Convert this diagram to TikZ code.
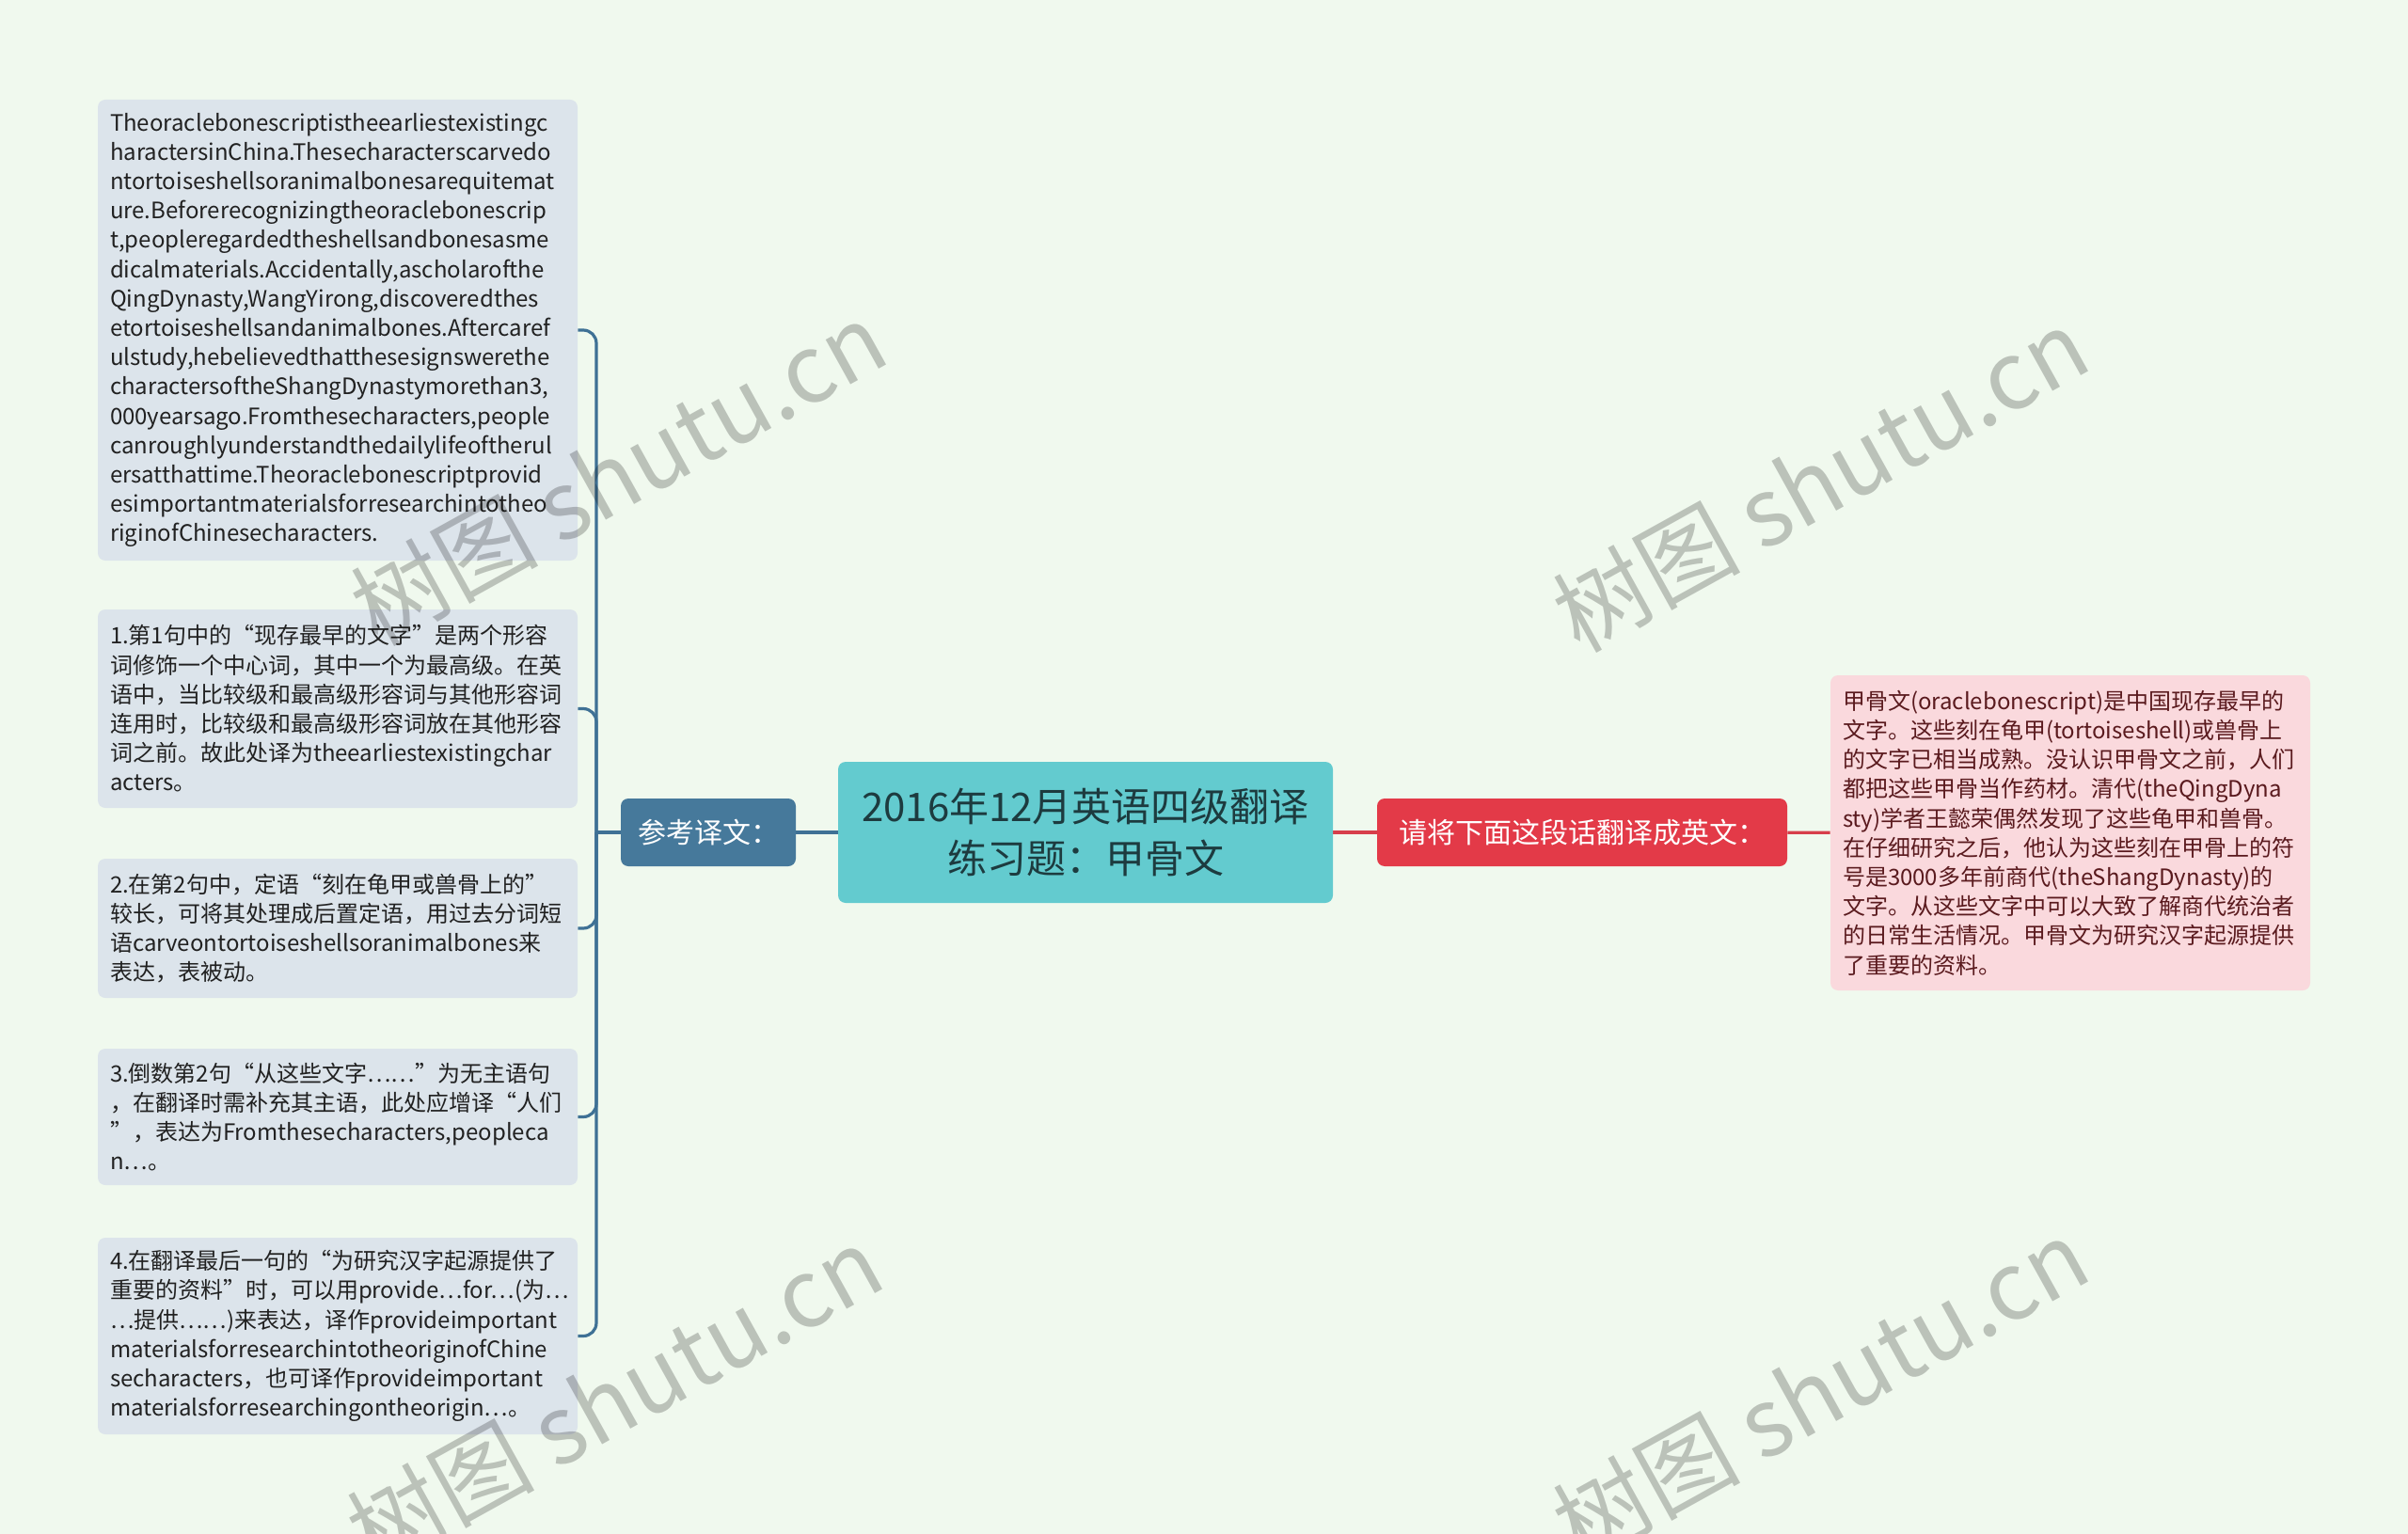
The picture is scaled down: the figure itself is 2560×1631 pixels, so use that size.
\documentclass[tikz,border=0pt]{standalone}
\usepackage{fontspec}
\setmainfont{Noto Sans CJK SC}
\definecolor{bgcolor}{RGB}{240,249,238}
\definecolor{notefill}{RGB}{220,228,235}
\definecolor{bluefill}{RGB}{70,121,155}
\definecolor{blueline}{RGB}{63,113,149}
\definecolor{centerfill}{RGB}{99,203,207}
\definecolor{centertext}{RGB}{29,59,63}
\definecolor{redfill}{RGB}{227,58,72}
\definecolor{redline}{RGB}{215,63,75}
\definecolor{pinkfill}{RGB}{250,217,221}
\definecolor{pinktext}{RGB}{90,26,30}
\pgfdeclarelayer{edgelayer}
\pgfdeclarelayer{nodelayer}
\pgfsetlayers{edgelayer,nodelayer,main}
\tikzstyle{center_topic}=[rectangle,rounded corners=4pt,fill=centerfill,text=centertext,align=center,minimum width=263pt,minimum height=75pt,font=\fontsize{21}{27.7}\selectfont]
\tikzstyle{blue_branch}=[rectangle,rounded corners=4pt,fill=bluefill,text=white,minimum width=93pt,minimum height=36pt,font=\fontsize{15}{18}\selectfont]
\tikzstyle{red_branch}=[rectangle,rounded corners=4pt,fill=redfill,text=white,minimum width=218pt,minimum height=36pt,font=\fontsize{15}{18}\selectfont]
\tikzstyle{note_box}=[rectangle,rounded corners=4pt,fill=notefill,text=black!87,text width=242pt,align=left,inner xsep=6.5pt,inner ysep=0pt,font=\fontsize{12}{15.6}\selectfont]
\tikzstyle{source_box}=[note_box,fill=pinkfill,text=pinktext]
\tikzstyle{blue_edge}=[draw=blueline,line width=1.6pt]
\tikzstyle{red_edge}=[draw=redline,line width=1.6pt]
\tikzstyle{watermark}=[text=black,text opacity=0.22,rotate=29,font=\fontsize{50}{60}\selectfont]

\begin{document}
\begin{tikzpicture}[x=0.5pt,y=-0.5pt]
	\useasboundingbox (0,0) rectangle (2560,1631);
	\begin{pgfonlayer}{nodelayer}
		\node [style={center_topic}] (0) at (1154, 885) {2016年12月英语四级翻译\\练习题：甲骨文};
		\node [style={blue_branch}] (1) at (753, 885) {参考译文：};
		\node [style={red_branch}] (2) at (1682, 885) {请将下面这段话翻译成英文：};
		\node [style={source_box}, minimum height=167.5pt] (3) at (2201, 885.5) {甲骨文(oraclebonescript)是中国现存最早的\\文字。这些刻在龟甲(tortoiseshell)或兽骨上\\的文字已相当成熟。没认识甲骨文之前，人们\\都把这些甲骨当作药材。清代(theQingDyna\\sty)学者王懿荣偶然发现了这些龟甲和兽骨。\\在仔细研究之后，他认为这些刻在甲骨上的符\\号是3000多年前商代(theShangDynasty)的\\文字。从这些文字中可以大致了解商代统治者\\的日常生活情况。甲骨文为研究汉字起源提供\\了重要的资料。};
		\node [style={note_box}, minimum height=245pt] (4) at (359, 351) {Theoraclebonescriptistheearliestexistingc\\haractersinChina.Thesecharacterscarvedo\\ntortoiseshellsoranimalbonesarequitemat\\ure.Beforerecognizingtheoraclebonescrip\\t,peopleregardedtheshellsandbonesasme\\dicalmaterials.Accidentally,ascholarofthe\\QingDynasty,WangYirong,discoveredthes\\etortoiseshellsandanimalbones.Aftercaref\\ulstudy,hebelievedthatthesesignswerethe\\charactersoftheShangDynastymorethan3,\\000yearsago.Fromthesecharacters,people\\canroughlyunderstandthedailylifeoftherul\\ersatthattime.Theoraclebonescriptprovid\\esimportantmaterialsforresearchintotheo\\riginofChinesecharacters.};
		\node [style={note_box}, minimum height=105.5pt] (5) at (359, 753.5) {1.第1句中的“现存最早的文字”是两个形容\\词修饰一个中心词，其中一个为最高级。在英\\语中，当比较级和最高级形容词与其他形容词\\连用时，比较级和最高级形容词放在其他形容\\词之前。故此处译为theearliestexistingchar\\acters。};
		\node [style={note_box}, minimum height=74pt] (6) at (359, 987) {2.在第2句中，定语“刻在龟甲或兽骨上的”\\较长，可将其处理成后置定语，用过去分词短\\语carveontortoiseshellsoranimalbones来\\表达，表被动。};
		\node [style={note_box}, minimum height=72.5pt] (7) at (359, 1187.5) {3.倒数第2句“从这些文字……”为无主语句\\，在翻译时需补充其主语，此处应增译“人们\\”，表达为Fromthesecharacters,peopleca\\n…。};
		\node [style={note_box}, minimum height=104.5pt] (8) at (359, 1420.5) {4.在翻译最后一句的“为研究汉字起源提供了\\重要的资料”时，可以用provide…for…(为…\\…提供……)来表达，译作provideimportant\\materialsforresearchintotheoriginofChine\\secharacters，也可译作provideimportant\\materialsforresearchingontheorigin…。};
	\end{pgfonlayer}
	\begin{pgfonlayer}{edgelayer}
		\fill [bgcolor] (0,0) rectangle (2560,1631);
		\coordinate (t) at (634, 885);
		\draw [style=blue_edge] (0) to (1);
		\draw [style=blue_edge] (1) to (t);
		\draw [style=blue_edge, rounded corners=7pt] (t) |- (4.east);
		\draw [style=blue_edge, rounded corners=7pt] (t) |- (5.east);
		\draw [style=blue_edge, rounded corners=7pt] (t) |- (6.east);
		\draw [style=blue_edge, rounded corners=7pt] (t) |- (7.east);
		\draw [style=blue_edge, rounded corners=7pt] (t) |- (8.east);
		\draw [style=red_edge] (0) to (2);
		\draw [style=red_edge] (2) to (3);
	\end{pgfonlayer}
	\node [style=watermark] (w1) at (657, 503) {树图 shutu.cn};
	\node [style=watermark] (w2) at (1935, 510) {树图 shutu.cn};
	\node [style=watermark] (w3) at (653, 1486) {树图 shutu.cn};
	\node [style=watermark] (w4) at (1935, 1478) {树图 shutu.cn};
\end{tikzpicture}
\end{document}
